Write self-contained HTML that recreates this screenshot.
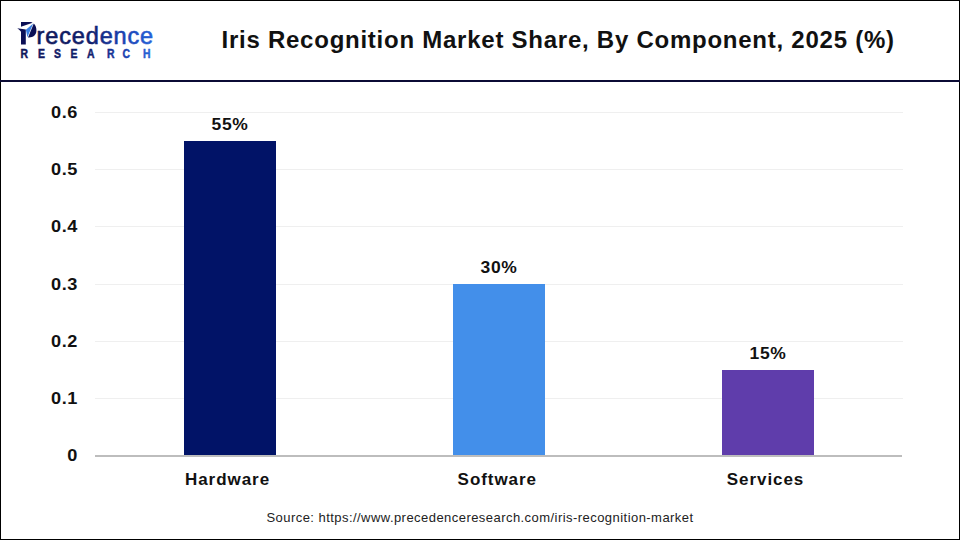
<!DOCTYPE html>
<html><head><meta charset="utf-8">
<style>
html,body{margin:0;padding:0;}
body{width:960px;height:540px;position:relative;overflow:hidden;background:#fff;font-family:"Liberation Sans",sans-serif;}
.frame{position:absolute;left:0;top:0;width:960px;height:540px;box-sizing:border-box;border:1px solid #000;}
.abs{position:absolute;white-space:pre;}
.divider{position:absolute;left:0;top:80px;width:960px;height:2px;background:#0b0b35;}
.title{left:221.5px;top:23.8px;font-weight:bold;font-size:24px;line-height:32px;color:#111;letter-spacing:0.75px;}
.grid{position:absolute;left:95px;width:808px;height:1px;background:#efefef;}
.axis{position:absolute;left:95px;top:455px;width:807px;height:2px;background:#bdbdbd;}
.ylab{position:absolute;width:60px;left:18.3px;text-align:right;font-weight:bold;font-size:16.5px;line-height:20px;color:#111;letter-spacing:0.5px;transform:scaleX(1.1);transform-origin:60px 0;}
.bar{position:absolute;width:92px;}
.val{position:absolute;width:120px;text-align:center;font-weight:bold;font-size:16.5px;line-height:20px;color:#111;letter-spacing:0.6px;transform:scaleX(1.06);}
.cat{position:absolute;width:200px;text-align:center;font-weight:bold;font-size:17px;line-height:20px;color:#111;letter-spacing:0.95px;}
.src{left:0;width:960px;text-align:center;top:508.8px;font-size:13px;line-height:18px;color:#222;letter-spacing:0.45px;}
</style></head>
<body>
<div class="frame"></div>
<div class="divider"></div>

<!-- logo -->
<svg class="abs" style="left:0;top:0" width="200" height="80" viewBox="0 0 200 80">
  <defs>
    <linearGradient id="lg" x1="37" y1="0" x2="154" y2="0" gradientUnits="userSpaceOnUse">
      <stop offset="0" stop-color="#0d185a"/>
      <stop offset="0.45" stop-color="#0f1f6c"/>
      <stop offset="0.72" stop-color="#1a3fae"/>
      <stop offset="1" stop-color="#2463db"/>
    </linearGradient>
  </defs>
  <path d="M21 22 L30.5 22 C31.3 22 32 22.3 32.6 22.7 L21 26.8 Z" fill="#0b0f55"/>
  <path d="M17.3 28.3 L25.8 29.6 L25.8 44.4 L21 44.4 L21 31.8 Q19.8 30.2 17.3 28.3 Z" fill="#0b0f55"/>
  <path d="M33.2 23.4 L25.9 29.8 L27.4 37.3 Z" fill="#3a7fe2"/>
  <path d="M33.8 23.6 C35.6 25.2 36.6 28 36.4 31 C36.1 35 33.2 37.4 29 37.5 L28 37.5 Z" fill="#0b0f55"/>
  <text x="36.6" y="44.1" font-family="Liberation Sans" font-size="23.5" fill="url(#lg)" stroke="url(#lg)" stroke-width="0.6" letter-spacing="0.85">recedence</text>
  <text transform="scale(0.84,1)" x="24.52 45.24 64.29 84.05 103.57 127.26 145.95 170.24" y="57.8" font-family="Liberation Sans" font-weight="bold" font-size="12.4" fill="url(#lg2)" stroke="url(#lg2)" stroke-width="0.45">RESEARCH</text>
  <defs>
    <linearGradient id="lg2" x1="24" y1="0" x2="180" y2="0" gradientUnits="userSpaceOnUse">
      <stop offset="0" stop-color="#0d175a"/>
      <stop offset="0.55" stop-color="#0f1f6e"/>
      <stop offset="0.8" stop-color="#1a40b0"/>
      <stop offset="1" stop-color="#2665d8"/>
    </linearGradient>
  </defs>
</svg>

<div class="abs title">Iris Recognition Market Share, By Component, 2025 (%)</div>

<!-- grid -->
<div class="grid" style="top:112px"></div>
<div class="grid" style="top:169px"></div>
<div class="grid" style="top:226px"></div>
<div class="grid" style="top:284px"></div>
<div class="grid" style="top:341px"></div>
<div class="grid" style="top:398px"></div>

<div class="ylab" style="top:102px">0.6</div>
<div class="ylab" style="top:159px">0.5</div>
<div class="ylab" style="top:216px">0.4</div>
<div class="ylab" style="top:274px">0.3</div>
<div class="ylab" style="top:331px">0.2</div>
<div class="ylab" style="top:388px">0.1</div>
<div class="ylab" style="top:445px">0</div>

<div class="bar" style="left:184px;top:141px;height:314px;background:#011367;"></div>
<div class="bar" style="left:453px;top:284px;height:171px;background:#438fea;"></div>
<div class="bar" style="left:722px;top:370px;height:85px;background:#5f3dab;"></div>
<div class="axis"></div>

<div class="val" style="left:170px;top:114px">55%</div>
<div class="val" style="left:439px;top:257px">30%</div>
<div class="val" style="left:708px;top:343px">15%</div>

<div class="cat" style="left:127.5px;top:469.8px">Hardware</div>
<div class="cat" style="left:397.3px;top:469.8px">Software</div>
<div class="cat" style="left:665.5px;top:469.8px">Services</div>

<div class="abs src">Source: https://www.precedenceresearch.com/iris-recognition-market</div>
</body></html>
